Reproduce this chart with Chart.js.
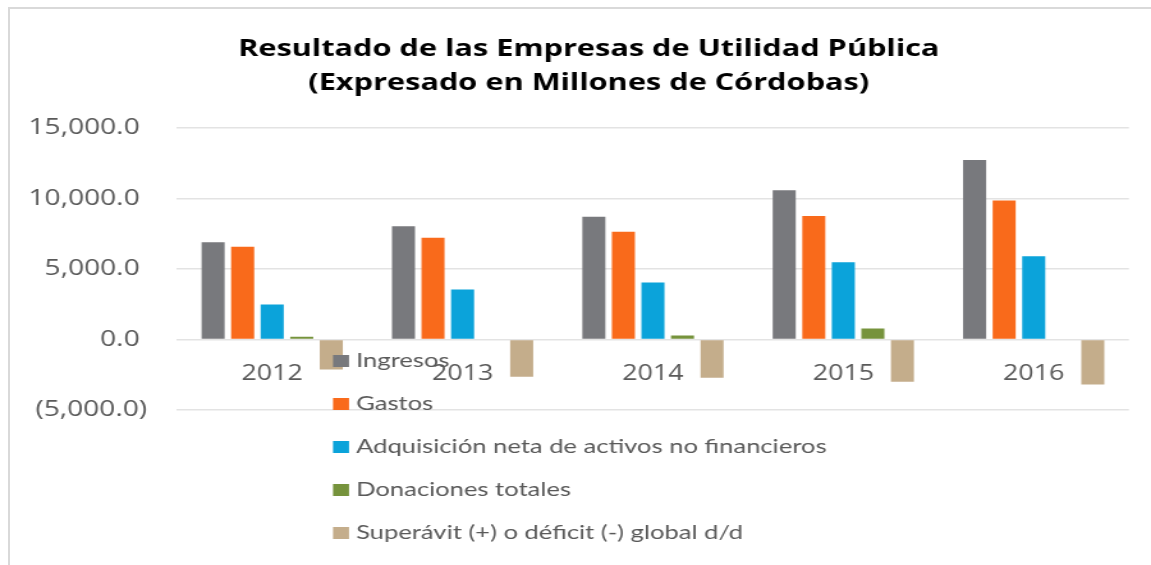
<!DOCTYPE html>
<html>
<head>
<meta charset="utf-8">
<script src="https://cdn.jsdelivr.net/npm/chart.js@4/dist/chart.umd.min.js"></script>
<style>
  html, body { margin: 0; padding: 0; background: #fff; overflow: hidden; }
  #frame { position: absolute; left: 8px; top: 7px; width: 1300px; height: 700px; border: 2px solid #d9d9d9; }
  #wrap { position: absolute; left: 0; top: 0; width: 900px; height: 565px; transform: scaleX(1.2789); transform-origin: 0 0; }
</style>
</head>
<body>
<div id="frame"></div>
<div id="wrap"><canvas id="chart"></canvas></div>
<script>
const years = ['2012', '2013', '2014', '2015', '2016'];
const ingresos = [6900, 8030, 8700, 10590, 12720];
const gastos = [6570, 7210, 7640, 8750, 9860];
const adquisicion = [2480, 3550, 4040, 5480, 5910];
const donaciones = [200, 0, 280, 780, 0];
const superavit = [-2130, -2650, -2720, -3000, -3190];
const yTicks = [-5000, 0, 5000, 10000, 15000];

const seriesNames = ['Ingresos', 'Gastos', 'Adquisición neta de activos no financieros', 'Donaciones totales', 'Superávit (+) o déficit (-) global d/d'];
const seriesColors = ['#78797d', '#f96a1b', '#0ba3da', '#76933c', '#c4ad8b'];
const seriesData = [ingresos, gastos, adquisicion, donaciones, superavit];

const TEXT_GRAY = '#595959';

// accounting style: negatives in brackets, positives keep room for the ")"
function fmt(v) {
    const s = Math.abs(v).toLocaleString('en-US', {minimumFractionDigits: 1, maximumFractionDigits: 1});
    return v < 0 ? '(' + s + ')' : s + '\u2008';
}

// legend drawn over the plot, like the original
const overlayLegend = {
    id: 'overlayLegend',
    afterDraw(chart) {
        const ctx = chart.ctx;
        const x0 = 260.4, rowTop = 361, rowStep = 43;
        ctx.save();
        ctx.font = '20px Lato, sans-serif';
        ctx.textBaseline = 'middle';
        ctx.textAlign = 'left';
        chart.data.datasets.forEach((ds, i) => {
            const cy = rowTop + i * rowStep;
            ctx.fillStyle = ds.backgroundColor;
            ctx.fillRect(x0, cy - 6, 12.5, 12);
            ctx.fillStyle = TEXT_GRAY;
            ctx.fillText(ds.label, x0 + 18, cy);
        });
        ctx.restore();
    }
};

// title is centred a bit right of the canvas centre
const titleShift = {
    id: 'titleShift',
    afterLayout(chart) {
        if (chart.titleBlock) chart.titleBlock.left = 38;
    }
};

const ctx = document.getElementById('chart').getContext('2d');
new Chart(ctx, {
    type: 'bar',
    data: {
        labels: years,
        datasets: seriesNames.map((name, i) => ({
            label: name,
            data: seriesData[i],
            backgroundColor: seriesColors[i],
            borderWidth: 0,
            barPercentage: 0.78,
            categoryPercentage: 0.776
        }))
    },
    options: {
        responsive: true,
        maintainAspectRatio: false,
        animation: false,
        layout: { padding: { left: 0, right: 17.3, top: 0, bottom: 155 } },
        plugins: {
            legend: { display: false },
            tooltip: { enabled: false },
            title: {
                display: true,
                text: ['Resultado de las Empresas de Utilidad Pública', '(Expresado en Millones de Córdobas)'],
                color: '#000',
                font: { family: '"Open Sans", sans-serif', size: 24, weight: 'bold', lineHeight: 1.42 },
                padding: { top: 32, bottom: 27.8 }
            }
        },
        scales: {
            x: {
                position: { y: 0 },
                grid: { display: false },
                border: { display: false },
                ticks: { color: TEXT_GRAY, font: { family: '"Open Sans", sans-serif', size: 21 }, padding: 14, maxRotation: 0 }
            },
            y: {
                min: -5000,
                max: 15000,
                afterBuildTicks(scale) { scale.ticks = yTicks.map(v => ({value: v})); },
                afterFit(scale) { scale.width = 138.4; },
                grid: { color: '#e3e3e3', lineWidth: 1.5, drawTicks: false },
                border: { display: false },
                ticks: { color: TEXT_GRAY, font: { family: '"Open Sans", sans-serif', size: 22 }, padding: 23.4, callback: v => fmt(v) }
            }
        }
    },
    plugins: [overlayLegend, titleShift]
});
</script>
</body>
</html>
